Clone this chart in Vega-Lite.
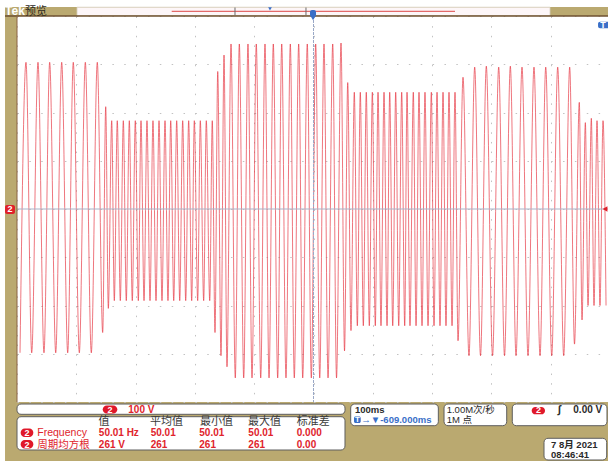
{
  "$schema": "https://vega.github.io/schema/vega-lite/v6.json",
  "width": 591,
  "height": 386,
  "autosize": {"type": "none"},
  "padding": {"left": 17, "top": 16, "right": 0, "bottom": 59},
  "background": "#baa970",
  "data": {"values": [{}]},
  "config": {
    "view": {"fill": "#ffffff", "stroke": null},
    "axis": {"labels": false, "ticks": false, "title": null, "domain": false, "grid": true, "gridColor": "#c2c2c2", "gridWidth": 1},
    "axisX": {"gridDash": [1.5, 8.15]},
    "axisY": {"gridDash": [1.5, 10.36]},
    "text": {"font": "Liberation Sans, Noto Sans CJK SC, DejaVu Sans"}
  },
  "layer": [
    {
      "data": {"values": [
        {"t": 5.1, "v": -298}, {"t": 15.2, "v": 304}, {"t": 24.8, "v": -298}, {"t": 35.4, "v": 304},
        {"t": 45.5, "v": -298}, {"t": 55.1, "v": 304}, {"t": 65.3, "v": -298}, {"t": 75.4, "v": 304},
        {"t": 85.5, "v": -298}, {"t": 94.9, "v": 304}, {"t": 105.1, "v": -298}, {"t": 115.2, "v": 304},
        {"t": 125.3, "v": -298}, {"t": 135.4, "v": 304}, {"t": 144.5, "v": -256}, {"t": 149.6, "v": 212},
        {"t": 154.0, "v": -206}, {"t": 159.7, "v": 183}, {"t": 164.1, "v": -190}, {"t": 169.1, "v": 183},
        {"t": 174.2, "v": -190}, {"t": 179.3, "v": 183}, {"t": 184.3, "v": -190}, {"t": 189.4, "v": 183},
        {"t": 194.4, "v": -190}, {"t": 199.5, "v": 183}, {"t": 204.6, "v": -190}, {"t": 209.1, "v": 183},
        {"t": 214.2, "v": -190}, {"t": 219.2, "v": 183}, {"t": 224.3, "v": -190}, {"t": 229.3, "v": 183},
        {"t": 234.4, "v": -190}, {"t": 239.5, "v": 183}, {"t": 244.5, "v": -190}, {"t": 249.6, "v": 183},
        {"t": 254.6, "v": -190}, {"t": 259.2, "v": 183}, {"t": 264.3, "v": -190}, {"t": 269.3, "v": 183},
        {"t": 274.4, "v": -190}, {"t": 279.4, "v": 183}, {"t": 284.5, "v": -190}, {"t": 289.5, "v": 183},
        {"t": 294.6, "v": -190}, {"t": 299.0, "v": 183}, {"t": 304.7, "v": -190}, {"t": 309.1, "v": 183},
        {"t": 314.8, "v": -190}, {"t": 319.2, "v": 183}, {"t": 325.0, "v": -190}, {"t": 329.3, "v": 183},
        {"t": 333.9, "v": -256}, {"t": 338.5, "v": 285}, {"t": 344.0, "v": -304}, {"t": 349.1, "v": 319},
        {"t": 354.1, "v": -327}, {"t": 360.9, "v": 342}, {"t": 368.1, "v": -350}, {"t": 374.9, "v": 342},
        {"t": 382.3, "v": -350}, {"t": 389.5, "v": 342}, {"t": 396.3, "v": -350}, {"t": 403.5, "v": 342},
        {"t": 411.0, "v": -350}, {"t": 418.2, "v": 342}, {"t": 425.0, "v": -350}, {"t": 432.2, "v": 342},
        {"t": 439.6, "v": -350}, {"t": 446.4, "v": 342}, {"t": 453.6, "v": -350}, {"t": 460.9, "v": 342},
        {"t": 467.6, "v": -350}, {"t": 475.0, "v": 342}, {"t": 481.8, "v": -350}, {"t": 489.5, "v": 342},
        {"t": 496.3, "v": -350}, {"t": 503.7, "v": 342}, {"t": 510.5, "v": -350}, {"t": 517.7, "v": 342},
        {"t": 524.5, "v": -350}, {"t": 532.4, "v": 342}, {"t": 538.8, "v": -350}, {"t": 546.4, "v": 344},
        {"t": 552.3, "v": -294}, {"t": 557.7, "v": 262}, {"t": 563.2, "v": -252}, {"t": 568.8, "v": 242},
        {"t": 573.9, "v": -242}, {"t": 578.9, "v": 242}, {"t": 584.0, "v": -242}, {"t": 589.0, "v": 242},
        {"t": 594.1, "v": -242}, {"t": 599.2, "v": 242}, {"t": 604.2, "v": -242}, {"t": 608.8, "v": 242},
        {"t": 613.8, "v": -242}, {"t": 618.9, "v": 242}, {"t": 624.0, "v": -242}, {"t": 628.5, "v": 242},
        {"t": 633.6, "v": -242}, {"t": 638.6, "v": 242}, {"t": 643.7, "v": -242}, {"t": 648.7, "v": 242},
        {"t": 653.8, "v": -242}, {"t": 657.7, "v": 242}, {"t": 662.7, "v": -242}, {"t": 668.3, "v": 242},
        {"t": 672.9, "v": -242}, {"t": 677.9, "v": 242}, {"t": 683.0, "v": -242}, {"t": 688.0, "v": 242},
        {"t": 693.1, "v": -242}, {"t": 698.7, "v": 242}, {"t": 703.2, "v": -242}, {"t": 708.3, "v": 242},
        {"t": 713.3, "v": -242}, {"t": 718.4, "v": 242}, {"t": 723.4, "v": -242}, {"t": 728.5, "v": 242},
        {"t": 733.6, "v": -242}, {"t": 738.6, "v": 242}, {"t": 743.7, "v": -273}, {"t": 752.1, "v": 273},
        {"t": 762.2, "v": -304}, {"t": 771.8, "v": 294}, {"t": 781.6, "v": -304}, {"t": 791.4, "v": 296},
        {"t": 801.9, "v": -304}, {"t": 812.3, "v": 294}, {"t": 822.1, "v": -304}, {"t": 831.9, "v": 296},
        {"t": 841.5, "v": -304}, {"t": 851.6, "v": 294}, {"t": 861.7, "v": -304}, {"t": 871.8, "v": 294},
        {"t": 882.0, "v": -304}, {"t": 891.6, "v": 294}, {"t": 901.7, "v": -304}, {"t": 911.8, "v": 294},
        {"t": 921.9, "v": -304}, {"t": 932.0, "v": 294}, {"t": 940.1, "v": -280}, {"t": 948.2, "v": 221},
        {"t": 952.8, "v": -230}, {"t": 958.4, "v": 179}, {"t": 962.9, "v": -200}, {"t": 968.5, "v": 188},
        {"t": 973.0, "v": -200}, {"t": 978.1, "v": 183}, {"t": 983.1, "v": -200}, {"t": 988.2, "v": 183},
        {"t": 993.3, "v": -200}
      ]},
      "mark": {"type": "line", "color": "#e5333f", "strokeWidth": 0.9, "opacity": 0.75, "interpolate": "monotone", "clip": true},
      "encoding": {
        "x": {"field": "t", "type": "quantitative", "scale": {"domain": [0, 996.6], "nice": false, "zero": false},
              "axis": {"values": [0, 100, 200, 300, 400, 500, 600, 700, 800, 900], "orient": "bottom"}},
        "y": {"field": "v", "type": "quantitative", "scale": {"domain": [-400, 400], "nice": false, "zero": false},
              "axis": {"values": [-400, -300, -200, -100, 0, 100, 200, 300, 400], "orient": "left"}}
      }
    },
    {"mark": {"type": "rule", "color": "#aab3c8", "strokeWidth": 1}, "encoding": {"y": {"datum": 0}}},
    {"mark": {"type": "rule", "color": "#9aa8c6", "strokeWidth": 1, "strokeDash": [3, 1]}, "encoding": {"x": {"datum": 500}}},

    {"mark": {"type": "rect", "fill": "#ffffff"}, "encoding": {"x": {"datum": -40}, "x2": {"datum": 1020}, "y": {"datum": 450}, "y2": {"datum": 418.6}}},
    {"mark": {"type": "rect", "fill": "#ffffff"}, "encoding": {"x": {"datum": -40}, "x2": {"datum": -20.2}, "y": {"datum": 450}, "y2": {"datum": -540}}},
    {"mark": {"type": "rect", "fill": "#fdf6f8", "stroke": "#d8d0c0", "strokeWidth": 0.8}, "encoding": {"x": {"datum": 101.2}, "x2": {"datum": 898.8}, "y": {"datum": 418.2}, "y2": {"datum": 401.0}}},
    {"mark": {"type": "rule", "color": "#e36a6a", "strokeWidth": 1.2}, "encoding": {"x": {"datum": 260.9}, "x2": {"datum": 738.6}, "y": {"datum": 409.7}}},
    {"mark": {"type": "rule", "color": "#6a6a6a", "strokeWidth": 1}, "encoding": {"x": {"datum": 367.6}, "y": {"datum": 417.6}, "y2": {"datum": 402.0}}},
    {"mark": {"type": "rule", "color": "#6a6a6a", "strokeWidth": 1}, "encoding": {"x": {"datum": 487.3}, "y": {"datum": 417.6}, "y2": {"datum": 402.0}}},
    {"mark": {"type": "point", "shape": "triangle-down", "filled": true, "color": "#3a6fc8", "size": 14, "opacity": 1}, "encoding": {"x": {"datum": 426.6}, "y": {"datum": 415.0}}},
    {"mark": {"type": "rule", "color": "#6e5030", "strokeWidth": 1.5}, "encoding": {"x": {"datum": -20.2}, "x2": {"datum": 1020}, "y": {"datum": 400}}},
    {"mark": {"type": "rule", "color": "#8b6245", "strokeWidth": 1}, "encoding": {"x": {"datum": 0}, "y": {"datum": 400}, "y2": {"datum": -400}}},
    {"mark": {"type": "text", "text": "Tek", "fontSize": 12, "fontWeight": "bold", "fill": "#ffffff", "align": "left", "baseline": "alphabetic"}, "encoding": {"x": {"datum": -20.2}, "y": {"datum": 401.5}}},
    {"mark": {"type": "text", "text": "预览", "fontSize": 11, "fill": "#2d2a1e", "align": "left", "baseline": "alphabetic"}, "encoding": {"x": {"datum": 13.5}, "y": {"datum": 402.0}}},

    {"mark": {"type": "rect", "fill": "#3a6fc8", "cornerRadius": 2}, "encoding": {"x": {"datum": 494.1}, "x2": {"datum": 504.2}, "y": {"datum": 412.4}, "y2": {"datum": 397.9}}},
    {"mark": {"type": "point", "shape": "triangle-down", "filled": true, "color": "#3a6fc8", "size": 22, "opacity": 1}, "encoding": {"x": {"datum": 499.2}, "y": {"datum": 395.5}}},
    {"mark": {"type": "rect", "fill": "#3a6fc8", "cornerRadius": 2}, "encoding": {"x": {"datum": 979.8}, "x2": {"datum": 1010}, "y": {"datum": 388.2}, "y2": {"datum": 374.5}}},
    {"mark": {"type": "text", "text": "T", "fontSize": 9, "fontWeight": "bold", "fill": "#ffffff", "align": "center", "baseline": "middle"}, "encoding": {"x": {"datum": 988.2}, "y": {"datum": 381.3}}},
    {"mark": {"type": "point", "shape": "triangle-left", "filled": true, "color": "#e0202a", "size": 30, "opacity": 1}, "encoding": {"x": {"datum": 991.6}, "y": {"datum": 0}}},
    {"mark": {"type": "rect", "fill": "#e0202a", "cornerRadius": 2}, "encoding": {"x": {"datum": -20.2}, "x2": {"datum": -3.4}, "y": {"datum": 8.3}, "y2": {"datum": -10.4}}},
    {"mark": {"type": "text", "text": "2", "fontSize": 9, "fontWeight": "bold", "fill": "#ffffff", "align": "center", "baseline": "middle"}, "encoding": {"x": {"datum": -12.0}, "y": {"datum": -1.0}}},

    {"mark": {"type": "rect", "fill": "#ffffff", "stroke": "#5e5e5e", "strokeWidth": 1, "cornerRadius": 4}, "encoding": {"x": {"datum": 0}, "x2": {"datum": 553.1}, "y": {"datum": -404.2}, "y2": {"datum": -425.5}}},
    {"mark": {"type": "rect", "fill": "#e0182a", "cornerRadius": 4}, "encoding": {"x": {"datum": 144.5}, "x2": {"datum": 169.2}, "y": {"datum": -407.3}, "y2": {"datum": -423.8}}},
    {"mark": {"type": "text", "text": "2", "fontSize": 9, "fontWeight": "bold", "fill": "#ffffff", "align": "center", "baseline": "alphabetic"}, "encoding": {"x": {"datum": 156.8}, "y": {"datum": -421.8}}},
    {"mark": {"type": "text", "text": "100 V", "fontSize": 10, "fontWeight": "bold", "fill": "#e0242c", "align": "left", "baseline": "alphabetic"}, "encoding": {"x": {"datum": 187.7}, "y": {"datum": -422.8}}},

    {"mark": {"type": "rect", "fill": "#ffffff", "stroke": "#5e5e5e", "strokeWidth": 1, "cornerRadius": 4}, "encoding": {"x": {"datum": 0}, "x2": {"datum": 553.1}, "y": {"datum": -430.5}, "y2": {"datum": -499.5}}},
    {"mark": {"type": "text", "text": "值", "fontSize": 11, "fill": "#3a3a3a", "align": "left", "baseline": "alphabetic"}, "encoding": {"x": {"datum": 137.4}, "y": {"datum": -447.7}}},
    {"mark": {"type": "text", "text": "平均值", "fontSize": 11, "fill": "#3a3a3a", "align": "left", "baseline": "alphabetic"}, "encoding": {"x": {"datum": 224.3}, "y": {"datum": -447.7}}},
    {"mark": {"type": "text", "text": "最小值", "fontSize": 11, "fill": "#3a3a3a", "align": "left", "baseline": "alphabetic"}, "encoding": {"x": {"datum": 308.6}, "y": {"datum": -447.7}}},
    {"mark": {"type": "text", "text": "最大值", "fontSize": 11, "fill": "#3a3a3a", "align": "left", "baseline": "alphabetic"}, "encoding": {"x": {"datum": 389.6}, "y": {"datum": -447.7}}},
    {"mark": {"type": "text", "text": "标准差", "fontSize": 11, "fill": "#3a3a3a", "align": "left", "baseline": "alphabetic"}, "encoding": {"x": {"datum": 471.7}, "y": {"datum": -447.7}}},
    {"mark": {"type": "rect", "fill": "#e0182a", "cornerRadius": 4}, "encoding": {"x": {"datum": 6.2}, "x2": {"datum": 27.5}, "y": {"datum": -454.9}, "y2": {"datum": -472.5}}},
    {"mark": {"type": "rect", "fill": "#e0182a", "cornerRadius": 4}, "encoding": {"x": {"datum": 6.2}, "x2": {"datum": 27.5}, "y": {"datum": -478.8}, "y2": {"datum": -496.4}}},
    {"mark": {"type": "text", "text": ["2", "2"], "lineHeight": 11.5, "fontSize": 9, "fontWeight": "bold", "fill": "#ffffff", "align": "center", "baseline": "alphabetic"}, "encoding": {"x": {"datum": 16.9}, "y": {"datum": -470.5}}},
    {"mark": {"type": "text", "text": ["Frequency", "周期均方根"], "lineHeight": 11.5, "fontSize": 10.5, "fill": "#e0242c", "align": "left", "baseline": "alphabetic"}, "encoding": {"x": {"datum": 34.2}, "y": {"datum": -470.5}}},
    {"mark": {"type": "text", "text": ["50.01 Hz", "261 V"], "lineHeight": 11.5, "fontSize": 10, "fontWeight": "bold", "fill": "#e0242c", "align": "left", "baseline": "alphabetic"}, "encoding": {"x": {"datum": 138.0}, "y": {"datum": -470.5}}},
    {"mark": {"type": "text", "text": ["50.01", "261"], "lineHeight": 11.5, "fontSize": 10, "fontWeight": "bold", "fill": "#e0242c", "align": "left", "baseline": "alphabetic"}, "encoding": {"x": {"datum": 225.4}, "y": {"datum": -470.5}}},
    {"mark": {"type": "text", "text": ["50.01", "261"], "lineHeight": 11.5, "fontSize": 10, "fontWeight": "bold", "fill": "#e0242c", "align": "left", "baseline": "alphabetic"}, "encoding": {"x": {"datum": 307.4}, "y": {"datum": -470.5}}},
    {"mark": {"type": "text", "text": ["50.01", "261"], "lineHeight": 11.5, "fontSize": 10, "fontWeight": "bold", "fill": "#e0242c", "align": "left", "baseline": "alphabetic"}, "encoding": {"x": {"datum": 390.1}, "y": {"datum": -470.5}}},
    {"mark": {"type": "text", "text": ["0.000", "0.00"], "lineHeight": 11.5, "fontSize": 10, "fontWeight": "bold", "fill": "#e0242c", "align": "left", "baseline": "alphabetic"}, "encoding": {"x": {"datum": 471.7}, "y": {"datum": -470.5}}},

    {"mark": {"type": "rect", "fill": "#ffffff", "stroke": "#5e5e5e", "strokeWidth": 1, "cornerRadius": 4}, "encoding": {"x": {"datum": 562.7}, "x2": {"datum": 710.5}, "y": {"datum": -404.2}, "y2": {"datum": -449.1}}},
    {"mark": {"type": "text", "text": ["100ms"], "fontSize": 9.5, "fontWeight": "bold", "fill": "#2a2a2a", "align": "left", "baseline": "alphabetic"}, "encoding": {"x": {"datum": 570.0}, "y": {"datum": -421.8}}},
    {"mark": {"type": "rect", "fill": "#3a6fc8", "cornerRadius": 1.5}, "encoding": {"x": {"datum": 568.3}, "x2": {"datum": 579.6}, "y": {"datum": -430.0}, "y2": {"datum": -443.5}}},
    {"mark": {"type": "text", "text": "T", "fontSize": 8, "fontWeight": "bold", "fill": "#ffffff", "align": "center", "baseline": "alphabetic"}, "encoding": {"x": {"datum": 573.9}, "y": {"datum": -442.1}}},
    {"mark": {"type": "text", "text": "→▼-609.000ms", "fontSize": 9.5, "fontWeight": "bold", "fill": "#3a6fc8", "align": "left", "baseline": "alphabetic"}, "encoding": {"x": {"datum": 580.6}, "y": {"datum": -443.1}}},

    {"mark": {"type": "rect", "fill": "#ffffff", "stroke": "#5e5e5e", "strokeWidth": 1, "cornerRadius": 4}, "encoding": {"x": {"datum": 720.1}, "x2": {"datum": 825.8}, "y": {"datum": -404.2}, "y2": {"datum": -449.1}}},
    {"mark": {"type": "text", "text": ["1.00M次/秒", "1M 点"], "lineHeight": 10.3, "fontSize": 9.5, "fill": "#2a2a2a", "align": "left", "baseline": "alphabetic"}, "encoding": {"x": {"datum": 724.6}, "y": {"datum": -421.8}}},

    {"mark": {"type": "rect", "fill": "#ffffff", "stroke": "#5e5e5e", "strokeWidth": 1, "cornerRadius": 4}, "encoding": {"x": {"datum": 835.2}, "x2": {"datum": 994.9}, "y": {"datum": -404.2}, "y2": {"datum": -449.1}}},
    {"mark": {"type": "rect", "fill": "#e0182a", "cornerRadius": 4}, "encoding": {"x": {"datum": 867.9}, "x2": {"datum": 890.4}, "y": {"datum": -410.3}, "y2": {"datum": -425.5}}},
    {"mark": {"type": "text", "text": "2", "fontSize": 9, "fontWeight": "bold", "fill": "#ffffff", "align": "center", "baseline": "alphabetic"}, "encoding": {"x": {"datum": 879.2}, "y": {"datum": -422.3}}},
    {"mark": {"type": "text", "text": "∫", "fontSize": 11, "fontWeight": "bold", "fill": "#2a2a2a", "align": "center", "baseline": "alphabetic"}, "encoding": {"x": {"datum": 914.5}, "y": {"datum": -423.8}}},
    {"mark": {"type": "text", "text": "0.00 V", "fontSize": 10, "fontWeight": "bold", "fill": "#2a2a2a", "align": "left", "baseline": "alphabetic"}, "encoding": {"x": {"datum": 938.1}, "y": {"datum": -422.8}}},

    {"mark": {"type": "rect", "fill": "#ffffff", "stroke": "#5e5e5e", "strokeWidth": 1, "cornerRadius": 4}, "encoding": {"x": {"datum": 888.7}, "x2": {"datum": 994.4}, "y": {"datum": -475.2}, "y2": {"datum": -520.2}}},
    {"mark": {"type": "text", "text": ["7 8月 2021", "08:46:41"], "lineHeight": 9.8, "fontSize": 9.5, "fontWeight": "bold", "fill": "#2a2a2a", "align": "left", "baseline": "alphabetic"}, "encoding": {"x": {"datum": 900.5}, "y": {"datum": -495.3}}}
  ]
}
